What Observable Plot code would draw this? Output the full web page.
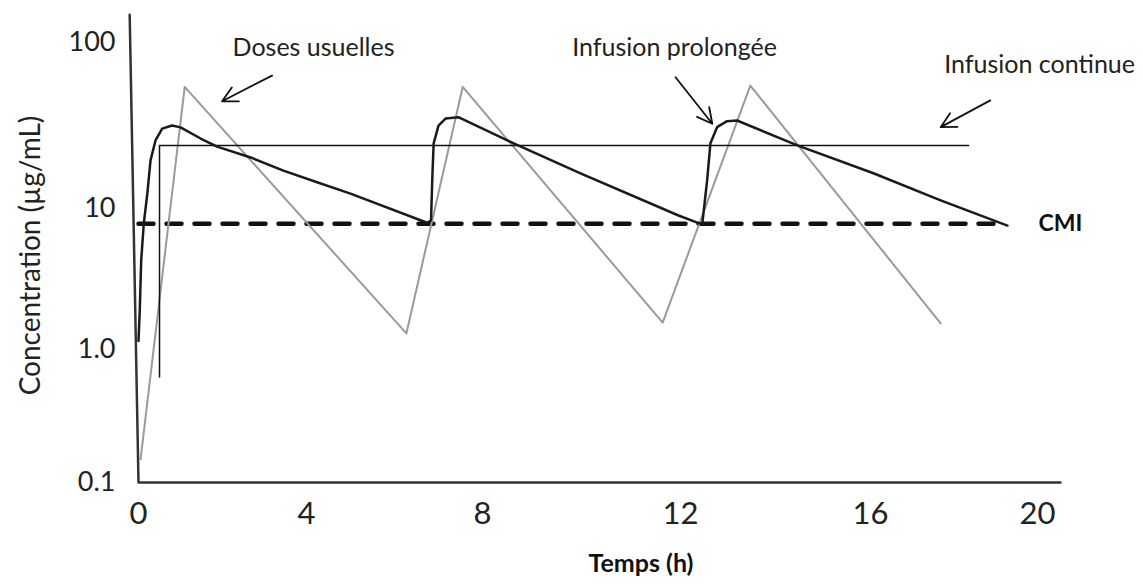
<!DOCTYPE html>
<html>
<head>
<meta charset="utf-8">
<script src="https://cdn.jsdelivr.net/npm/d3@7"></script>
<script src="https://cdn.jsdelivr.net/npm/@observablehq/plot@0.6"></script>
<style>
  body { margin: 0; background: #fff; }
  #chart svg { display: block; }
</style>
</head>
<body>
<div id="chart"></div>
<script>
// ---- Axes ----
const xTicks = [0, 4, 8, 12, 16, 20];
const yTicks = [0.1, 1, 10, 100];
const yTickLabels = ["0.1", "1.0", "10", "100"];
const xTitle = "Temps (h)";
const yTitle = "Concentration (µg/mL)";

// ---- Séries (temps en h, concentration en µg/mL) ----
// Doses usuelles (gris)
const dosesT = [0.05, 1.10, 6.27, 7.55, 11.64, 13.47, 17.68];
const dosesC = [0.15, 54, 1.30, 54, 1.55, 55, 1.53];

// Infusion prolongée (noir épais)
const prolT = [0, 0.03, 0.064, 0.126, 0.21, 0.286, 0.405, 0.564, 0.80, 1.0, 1.48, 1.87, 2.67, 3.45, 4.24, 5.0,
               6.74, 6.83, 6.86, 6.89, 7.0, 7.16, 7.45, 8.63, 9.98, 11.96,
               12.38, 12.46, 12.56, 12.63, 12.77, 12.98, 13.19, 14.46, 16.07, 17.68, 19.28];
const prolC = [1.15, 1.89, 4.28, 7.83, 12.3, 19.5, 25.7, 30.3, 31.6, 30.8, 26.4, 23.6, 20.3, 16.9, 14.4, 12.3,
               7.92, 8.22, 15.4, 24.7, 31.6, 34.8, 35.5, 24.7, 16.3, 8.92,
               7.87, 7.87, 14.7, 24.7, 30.9, 33.6, 33.9, 24.0, 16.3, 11.2, 7.57];

// Infusion continue (noir fin)
const contT = [0.5, 0.5, 18.35];
const contC = [0.62, 24, 24];

// CMI (tirets)
const cmiValue = 7.8;
const cmiT = [0, 19];

// Axes dessinés (axe vertical légèrement incliné)
const axeT = [-0.21, 0, 20.55];
const axeC = [147, 0.1, 0.1];

// Annotations
const annLabels = ["Doses usuelles", "Infusion prolongée", "Infusion continue"];
const annT = [4.16, 11.88, 20.05];
const annC = [93, 93, 73.6];
const cmiLabel = "CMI";
const cmiLabelT = 20.55;

// Flèches
const arrowT1 = [3.18, 11.90, 18.87];
const arrowC1 = [63.2, 61.8, 44.8];
const arrowT2 = [1.99, 12.67, 17.68];
const arrowC2 = [44.3, 32.4, 30.9];

// ---- Tables ----
const zipTC = (T, C) => T.map((t, i) => ({t, c: C[i]}));
const doses = zipTC(dosesT, dosesC);
const prol = zipTC(prolT, prolC);
const cont = zipTC(contT, contC);
const cmi = cmiT.map(t => ({t, c: cmiValue}));
const axe = zipTC(axeT, axeC);
const ann = annLabels.map((label, i) => ({label, t: annT[i], c: annC[i]}));
const arrows = arrowT1.map((t1, i) => ({t1, c1: arrowC1[i], t2: arrowT2[i], c2: arrowC2[i]}));

const W = 1143, H = 585;
const font = "Lato, 'Open Sans', sans-serif";

const chart = Plot.plot({
  width: W,
  height: H,
  marginLeft: 138,
  marginRight: 0,
  marginTop: 27,
  marginBottom: 102,
  style: {fontFamily: font, color: "#222", background: "#fff"},
  x: {type: "linear", domain: xTicks, range: [138, 306, 482, 680, 870, 1037], label: null},
  y: {type: "log", domain: yTicks, range: [482, 349, 208, 42], label: null},
  marks: [
    Plot.line(axe, {x: "t", y: "c", stroke: "#333", strokeWidth: 2.5}),
    Plot.line(cmi, {x: "t", y: "c", stroke: "#111", strokeWidth: 4.5, strokeDasharray: "15,13"}),
    Plot.line(doses, {x: "t", y: "c", stroke: "#9a9a9a", strokeWidth: 2}),
    Plot.line(cont, {x: "t", y: "c", stroke: "#111", strokeWidth: 1.5}),
    Plot.line(prol, {x: "t", y: "c", stroke: "#1a1a1a", strokeWidth: 2.5}),
    Plot.arrow(arrows, {x1: "t1", y1: "c1", x2: "t2", y2: "c2", stroke: "#111", strokeWidth: 1.8, headLength: 14, headAngle: 55}),
    Plot.text(ann, {x: "t", y: "c", text: "label", fontSize: 25, fill: "#222"}),
    Plot.text([cmiLabel], {x: () => cmiLabelT, y: () => cmiValue, text: d => d, fontSize: 23, fontWeight: "bold", fill: "#111"}),
    Plot.axisY({ticks: yTicks, tickFormat: d => yTickLabels[yTicks.indexOf(d)], tickSize: 0, tickPadding: 23, fontSize: 27, label: null}),
    Plot.axisX({ticks: xTicks, tickFormat: d => String(d), tickSize: 0, tickPadding: 18, fontSize: 31, label: null}),
    Plot.text([yTitle], {frameAnchor: "left", textAnchor: "middle", dx: -107, rotate: -90, text: d => d, fontSize: 28, fill: "#222"}),
    Plot.text([xTitle], {frameAnchor: "bottom", textAnchor: "middle", dx: 0, dy: 88, text: d => d, fontSize: 25, fontWeight: "bold", fill: "#111"})
  ]
});

document.getElementById("chart").appendChild(chart);
</script>
</body>
</html>
